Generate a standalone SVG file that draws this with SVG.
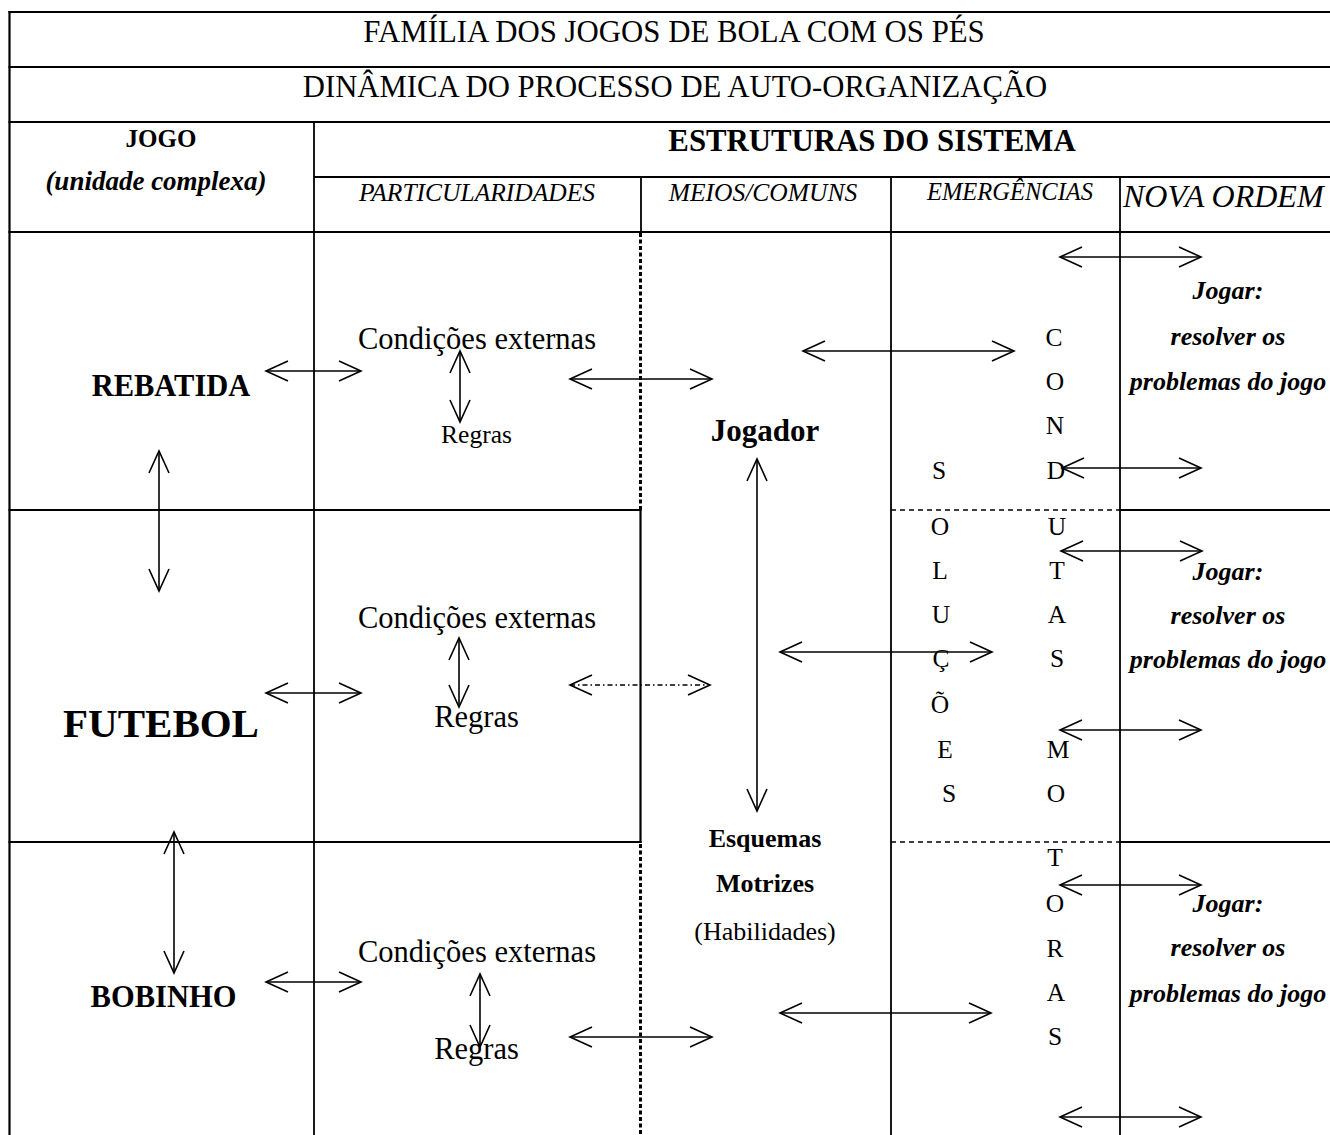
<svg xmlns="http://www.w3.org/2000/svg" width="1330" height="1135" viewBox="0 0 1330 1135">
<style>
text{font-family:"Liberation Serif","Times New Roman",serif;fill:#000}
.b{font-weight:bold}
.i{font-style:italic}
.m{text-anchor:middle}
.ln{stroke:#000;fill:none}
.thick{stroke-width:2.2}
.mid{stroke-width:1.8}
.thin{stroke-width:1.5}
.dots{stroke-width:3;stroke-dasharray:4 2.5}
.dash{stroke-width:1.5;stroke-dasharray:5 4}
.arr{stroke:#000;stroke-width:1.6;fill:none;marker-start:url(#ah);marker-end:url(#ah)}
.dd{stroke-dasharray:5 3 1.5 3}
.lt{font-size:25.5px}
.jg{font-size:26px;font-weight:bold;font-style:italic;text-anchor:middle}
</style>
<defs>
<marker id="ah" viewBox="-24 -12 26 24" refX="0" refY="0" markerWidth="26" markerHeight="24" markerUnits="userSpaceOnUse" orient="auto-start-reverse">
<path d="M-22,-10 L0,0 L-22,10" fill="none" stroke="#000" stroke-width="1.6" stroke-dasharray="none"/>
</marker>
</defs>
<rect width="1330" height="1135" fill="#fff"/>
<g id="grid">
<line class="ln thick" x1="9.5" y1="11" x2="9.5" y2="1135"/>
<line class="ln thick" x1="8.5" y1="12" x2="1330" y2="12"/>
<line class="ln thick" x1="8.5" y1="67" x2="1330" y2="67"/>
<line class="ln thick" x1="8.5" y1="122" x2="1330" y2="122"/>
<line class="ln thick" x1="314" y1="177" x2="1330" y2="177"/>
<line class="ln thick" x1="8.5" y1="232" x2="1330" y2="232"/>
<line class="ln mid" x1="314" y1="122" x2="314" y2="1135"/>
<line class="ln mid" x1="641" y1="177" x2="641" y2="232"/>
<line class="ln mid" x1="891" y1="177" x2="891" y2="1135"/>
<line class="ln mid" x1="1120" y1="177" x2="1120" y2="1135"/>
<line class="ln dots" x1="640.5" y1="233" x2="640.5" y2="510"/>
<line class="ln thick" x1="640.5" y1="509" x2="640.5" y2="843"/>
<line class="ln dots" x1="640.5" y1="844" x2="640.5" y2="1135"/>
<line class="ln thick" x1="8.5" y1="510" x2="641.5" y2="510"/>
<line class="ln dash" x1="891" y1="510" x2="1120" y2="510"/>
<line class="ln thick" x1="1120" y1="510" x2="1330" y2="510"/>
<line class="ln thick" x1="8.5" y1="842" x2="641.5" y2="842"/>
<line class="ln dash" x1="891" y1="842" x2="1120" y2="842"/>
<line class="ln thick" x1="1120" y1="842" x2="1330" y2="842"/>
</g>
<g id="header">
<text id="title1" class="m" x="674" y="42" font-size="30.8">FAMÍLIA DOS JOGOS DE BOLA COM OS PÉS</text>
<text id="title2" class="m" x="675" y="97" font-size="30.7">DINÂMICA DO PROCESSO DE AUTO-ORGANIZAÇÃO</text>
<text class="b m" x="161" y="147" font-size="25">JOGO</text>
<text class="b i m" x="156" y="190" font-size="27">(unidade complexa)</text>
<text class="b m" x="872" y="151" font-size="30.8">ESTRUTURAS DO SISTEMA</text>
<text class="i m" x="477" y="201" font-size="25.5">PARTICULARIDADES</text>
<text class="i m" x="763" y="201" font-size="25.5">MEIOS/COMUNS</text>
<text class="i m" x="1010" y="200" font-size="24.5">EMERGÊNCIAS</text>
<text class="i" x="1123" y="207" font-size="32">NOVA ORDEM</text>
</g>
<g id="rebatida"><text class="b m" x="171" y="396" font-size="30.5">REBATIDA</text></g>
<g id="futebol"><text class="b m" x="161" y="737" font-size="41">FUTEBOL</text></g>
<g id="bobinho"><text class="b m" x="163.5" y="1007" font-size="30.5">BOBINHO</text></g>
<g id="cond1"><text class="m" x="477" y="349" font-size="30.5">Condições externas</text></g>
<g id="regras1"><text class="m" x="476.5" y="443" font-size="25.5">Regras</text></g>
<g id="cond2"><text class="m" x="477" y="628" font-size="30.5">Condições externas</text></g>
<g id="regras2"><text class="m" x="476.5" y="727" font-size="30.5">Regras</text></g>
<g id="cond3"><text class="m" x="477" y="962" font-size="30.5">Condições externas</text></g>
<g id="regras3"><text class="m" x="476.5" y="1059" font-size="30.5">Regras</text></g>
<g id="jogador"><text class="b m" x="765" y="441" font-size="31">Jogador</text></g>
<g id="esquemas">
<text class="b m" x="765" y="847" font-size="26">Esquemas</text>
<text class="b m" x="765" y="892" font-size="26">Motrizes</text>
<text class="m" x="765" y="940" font-size="26">(Habilidades)</text>
</g>
<g id="condutas">
<text class="m lt" x="1054" y="346">C</text>
<text class="m lt" x="1055" y="390">O</text>
<text class="m lt" x="1055" y="434">N</text>
<text class="m lt" x="1056" y="479">D</text>
<text class="m lt" x="1057" y="535">U</text>
<text class="m lt" x="1057" y="579">T</text>
<text class="m lt" x="1057" y="623">A</text>
<text class="m lt" x="1057" y="667">S</text>
<text class="m lt" x="1058" y="758">M</text>
<text class="m lt" x="1056" y="802">O</text>
<text class="m lt" x="1055" y="866">T</text>
<text class="m lt" x="1055" y="912">O</text>
<text class="m lt" x="1055" y="957">R</text>
<text class="m lt" x="1056" y="1001">A</text>
<text class="m lt" x="1055" y="1045">S</text>
</g>
<g id="solucoes">
<text class="m lt" x="939" y="479">S</text>
<text class="m lt" x="940" y="535">O</text>
<text class="m lt" x="940" y="579">L</text>
<text class="m lt" x="941" y="623">U</text>
<text class="m lt" x="941" y="667">Ç</text>
<text class="m lt" x="940" y="713">Õ</text>
<text class="m lt" x="945" y="758">E</text>
<text class="m lt" x="949" y="802">S</text>
</g>
<g id="jogar1">
<text class="jg" x="1228" y="299">Jogar:</text>
<text class="jg" x="1228" y="345">resolver os</text>
<text class="jg" x="1228" y="390">problemas do jogo</text>
</g>
<g id="jogar2">
<text class="jg" x="1228" y="580">Jogar:</text>
<text class="jg" x="1228" y="624">resolver os</text>
<text class="jg" x="1228" y="668">problemas do jogo</text>
</g>
<g id="jogar3">
<text class="jg" x="1228" y="912">Jogar:</text>
<text class="jg" x="1228" y="956">resolver os</text>
<text class="jg" x="1228" y="1002">problemas do jogo</text>
</g>
<g id="connectors">
<line class="arr" x1="266" y1="371" x2="361" y2="371"/>
<line class="arr" x1="460" y1="351" x2="460" y2="422"/>
<line class="arr" x1="570" y1="379" x2="712" y2="379"/>
<line class="arr" x1="803" y1="351" x2="1014" y2="351"/>
<line class="arr" x1="1060" y1="257" x2="1201" y2="257"/>
<line class="arr" x1="1062" y1="468" x2="1201" y2="468"/>
<line class="arr" x1="757" y1="459" x2="757" y2="811"/>
<line class="arr" x1="159" y1="451" x2="159" y2="591"/>
<line class="arr" x1="1061" y1="551" x2="1202" y2="551"/>
<line class="arr" x1="780" y1="652" x2="992" y2="652"/>
<line class="arr" x1="266" y1="693" x2="361" y2="693"/>
<line class="arr" x1="459" y1="638" x2="459" y2="707"/>
<line class="arr dd" x1="570" y1="685" x2="710" y2="685"/>
<line class="arr" x1="1060" y1="730" x2="1201" y2="730"/>
<line class="arr" x1="174" y1="832" x2="174" y2="973"/>
<line class="arr" x1="1060" y1="885" x2="1201" y2="885"/>
<line class="arr" x1="266" y1="982" x2="361" y2="982"/>
<line class="arr" x1="480" y1="974" x2="480" y2="1047"/>
<line class="arr" x1="570" y1="1037" x2="712" y2="1037"/>
<line class="arr" x1="780" y1="1013" x2="991" y2="1013"/>
<line class="arr" x1="1060" y1="1117" x2="1201" y2="1117"/>
</g>
</svg>
